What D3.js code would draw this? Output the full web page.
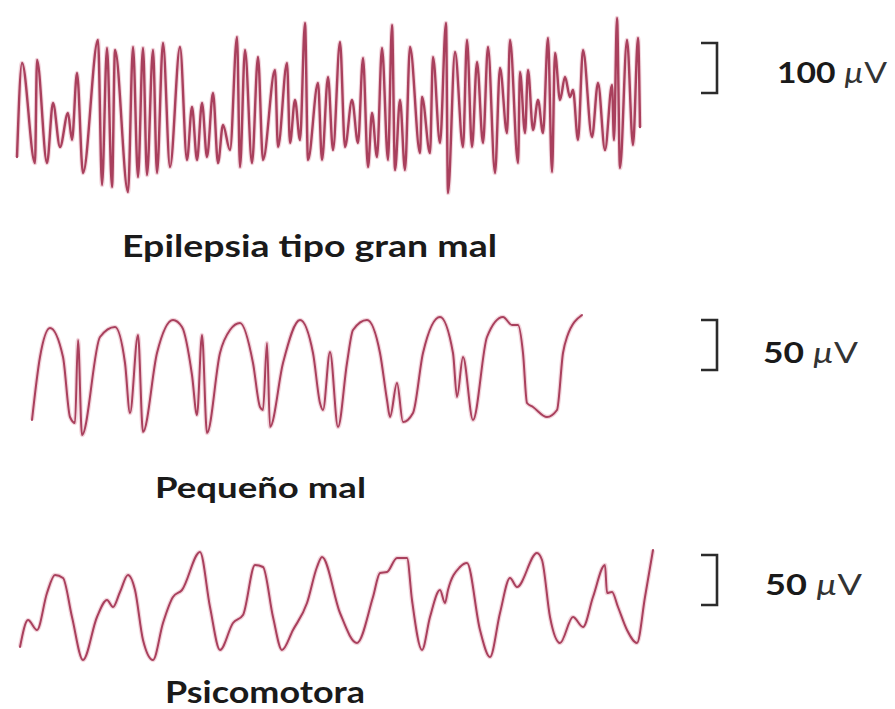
<!DOCTYPE html>
<html>
<head>
<meta charset="utf-8">
<script src="https://cdn.jsdelivr.net/npm/d3@7"></script>
<style>
  body { margin: 0; background: #fff; }
  svg { display: block; }
  text { font-family: Lato, 'Open Sans', sans-serif; fill: #1a1a1a; }
</style>
</head>
<body>
<div id="chart"></div>
<script>
// readings: [time (s), amplitude (µV)]
var granMal = [
  [0.17, -104], [0.22, 84], [0.35, -116], [0.37, 90], [0.47, -116], [0.53, 4], [0.60, -84],
  [0.68, -16], [0.72, -70], [0.77, 64], [0.83, -136], [0.98, 130], [1.02, -160], [1.07, 114],
  [1.12, -164], [1.15, 110], [1.28, -174], [1.33, 116], [1.38, -144], [1.43, 114], [1.47, -140],
  [1.53, 110], [1.57, -136], [1.63, 124], [1.70, -124], [1.80, 116], [1.87, -110], [1.92, -4],
  [1.97, -110], [2.02, 4], [2.07, -104], [2.13, 24], [2.18, -116], [2.23, -40], [2.30, -90],
  [2.37, 136], [2.40, -124], [2.45, 110], [2.52, -116], [2.58, 96], [2.63, -110], [2.75, 70],
  [2.78, -84], [2.87, 84], [2.90, -76], [2.95, 10], [3.00, -70], [3.05, 164], [3.08, -110],
  [3.18, 44], [3.22, -110], [3.28, 56], [3.33, -90], [3.40, 126], [3.45, -84], [3.52, 10],
  [3.58, -76], [3.63, 94], [3.68, -124], [3.72, -16], [3.77, -104], [3.82, 114], [3.88, -110],
  [3.92, 160], [3.95, -130], [4.00, 10], [4.05, -130], [4.10, 116], [4.20, -96], [4.22, 16],
  [4.30, -96], [4.33, 96], [4.40, -76], [4.46, 164], [4.48, -176], [4.55, 106], [4.63, -84],
  [4.67, 130], [4.72, -84], [4.77, 86], [4.83, -76], [4.88, 116], [4.95, -136], [5.00, 74],
  [5.07, -56], [5.10, 130], [5.18, -116], [5.20, 66], [5.25, -56], [5.28, 70], [5.33, -50],
  [5.38, 10], [5.43, -56], [5.48, 134], [5.52, -134], [5.55, 104], [5.60, 10], [5.65, 56],
  [5.70, 16], [5.73, 30], [5.78, -70], [5.83, 110], [5.92, -64], [5.98, 44], [6.05, -90],
  [6.12, 40], [6.14, -70], [6.17, 174], [6.20, -126], [6.27, 130], [6.33, -80], [6.38, 134],
  [6.40, -44]
]

var pequenoMal = [
  [0.32, -45], [0.40, 18], [0.50, 47], [0.63, 18], [0.70, -42], [0.75, -48], [0.78, 35],
  [0.82, -60], [1.00, 38], [1.15, 48], [1.25, 12], [1.30, -38], [1.38, 40], [1.43, -57],
  [1.57, 22], [1.73, 55], [1.82, 48], [1.92, 0], [1.97, -40], [2.02, 40], [2.07, -58],
  [2.20, 22], [2.30, 45], [2.40, 52], [2.53, 12], [2.60, -32], [2.63, -35], [2.67, 32],
  [2.70, -52], [2.83, 12], [3.00, 55], [3.13, 22], [3.20, -28], [3.23, -35], [3.30, 23],
  [3.38, -52], [3.47, 12], [3.53, 45], [3.67, 55], [3.80, 22], [3.87, -25], [3.90, -42],
  [3.97, -8], [4.03, -47], [4.13, -38], [4.23, 22], [4.40, 58], [4.53, 22], [4.57, -22],
  [4.63, 18], [4.73, -45], [4.87, 38], [5.03, 58], [5.12, 50], [5.18, 50], [5.23, 22],
  [5.27, -28], [5.33, -32], [5.47, -42], [5.57, -35], [5.63, 22], [5.67, 38], [5.82, 60]
]

var psicomotora = [
  [0.20, -37], [0.28, -10], [0.37, -20], [0.47, 17], [0.55, 35], [0.63, 32], [0.72, -7],
  [0.83, -50], [0.97, -7], [1.07, 10], [1.13, 3], [1.20, 18], [1.28, 35], [1.35, 20],
  [1.43, -30], [1.53, -50], [1.63, -13], [1.73, 13], [1.82, 20], [2.00, 58], [2.10, 3],
  [2.20, -40], [2.33, -13], [2.43, -5], [2.55, 45], [2.63, 43], [2.73, -7], [2.82, -40],
  [2.93, -20], [3.07, 7], [3.17, 43], [3.22, 53], [3.40, -3], [3.57, -33], [3.73, 13],
  [3.80, 37], [3.87, 38], [3.97, 52], [4.07, 52], [4.12, 10], [4.22, -40], [4.30, -7],
  [4.40, 20], [4.45, 7], [4.48, 20], [4.60, 43], [4.67, 47], [4.80, -20], [4.90, -47],
  [5.00, -3], [5.10, 32], [5.17, 23], [5.37, 57], [5.42, 50], [5.50, -7], [5.60, -33],
  [5.73, -7], [5.83, -17], [5.93, 13], [6.05, 45], [6.07, 17], [6.12, 18], [6.18, 3],
  [6.27, -20], [6.37, -33], [6.45, 13], [6.53, 60]
]

var traceNames = ['Epilepsia tipo gran mal', 'Pequeño mal', 'Psicomotora']
var scaleBars = [100, 50, 50]   // µV
var unitLabel = 'µV'

var width = 895
var height = 709

var svg = d3.select('#chart').append('svg')
  .attr('width', width)
  .attr('height', height)

var x = d3.scaleLinear().domain([0, 6.6]).range([0, 660])

// per trace layout: midline, px per µV, label box, bracket top
var panels = [
  { data: granMal, mid: 105, k: 0.5, labelX: 122, labelW: 375, labelY: 257, size: 31, barTop: 43, textY: 83, textX: 777, textW: 110 },
  { data: pequenoMal, mid: 375, k: 1, labelX: 155, labelW: 211, labelY: 498, size: 29, barTop: 320, textY: 363, textX: 763, textW: 95 },
  { data: psicomotora, mid: 610, k: 1, labelX: 165, labelW: 200, labelY: 703, size: 31, barTop: 555, textY: 595, textX: 765, textW: 97 }
]

panels.forEach(function(p, i) {
  var y = d3.scaleLinear()
    .domain([-200, 200])
    .range([p.mid + 200 * p.k, p.mid - 200 * p.k])

  var line = d3.line()
    .x(d => x(d[0]))
    .y(d => y(d[1]))
    .curve(d3.curveMonotoneX)

  // soft pencil halo, then the trace
  svg.append('path')
    .datum(p.data)
    .attr('d', line)
    .attr('fill', 'none')
    .attr('stroke', '#e3a3b4')
    .attr('stroke-width', 4.5)
    .attr('stroke-opacity', 0.45)
    .attr('stroke-linejoin', 'round')

  svg.append('path')
    .datum(p.data)
    .attr('d', line)
    .attr('fill', 'none')
    .attr('stroke', '#a9405d')
    .attr('stroke-width', i === 0 ? 2.4 : 2)
    .attr('stroke-linejoin', 'round')
    .attr('stroke-linecap', 'round')

  // calibration bracket
  var barH = y(0) - y(scaleBars[i])
  var bx = 701, bw = 16
  svg.append('path')
    .attr('d', 'M' + bx + ',' + p.barTop + 'H' + (bx + bw) + 'V' + (p.barTop + barH) + 'H' + bx)
    .attr('fill', 'none')
    .attr('stroke', '#2b2b2b')
    .attr('stroke-width', 2.6)

  var t = svg.append('text')
    .attr('x', p.textX)
    .attr('y', p.textY)
    .attr('font-size', 28)
    .attr('textLength', p.textW)
    .attr('lengthAdjust', 'spacingAndGlyphs')
  t.append('tspan').attr('font-weight', 700).text(scaleBars[i] + ' ')
  t.append('tspan').attr('font-weight', 400).attr('font-style', 'italic').attr('fill', '#333').text(unitLabel[0])
  t.append('tspan').attr('font-weight', 400).attr('fill', '#333').text(unitLabel[1])

  svg.append('text')
    .attr('x', p.labelX)
    .attr('y', p.labelY)
    .attr('font-size', p.size)
    .attr('font-weight', 700)
    .attr('textLength', p.labelW)
    .attr('lengthAdjust', 'spacingAndGlyphs')
    .text(traceNames[i])
})
</script>
</body>
</html>
